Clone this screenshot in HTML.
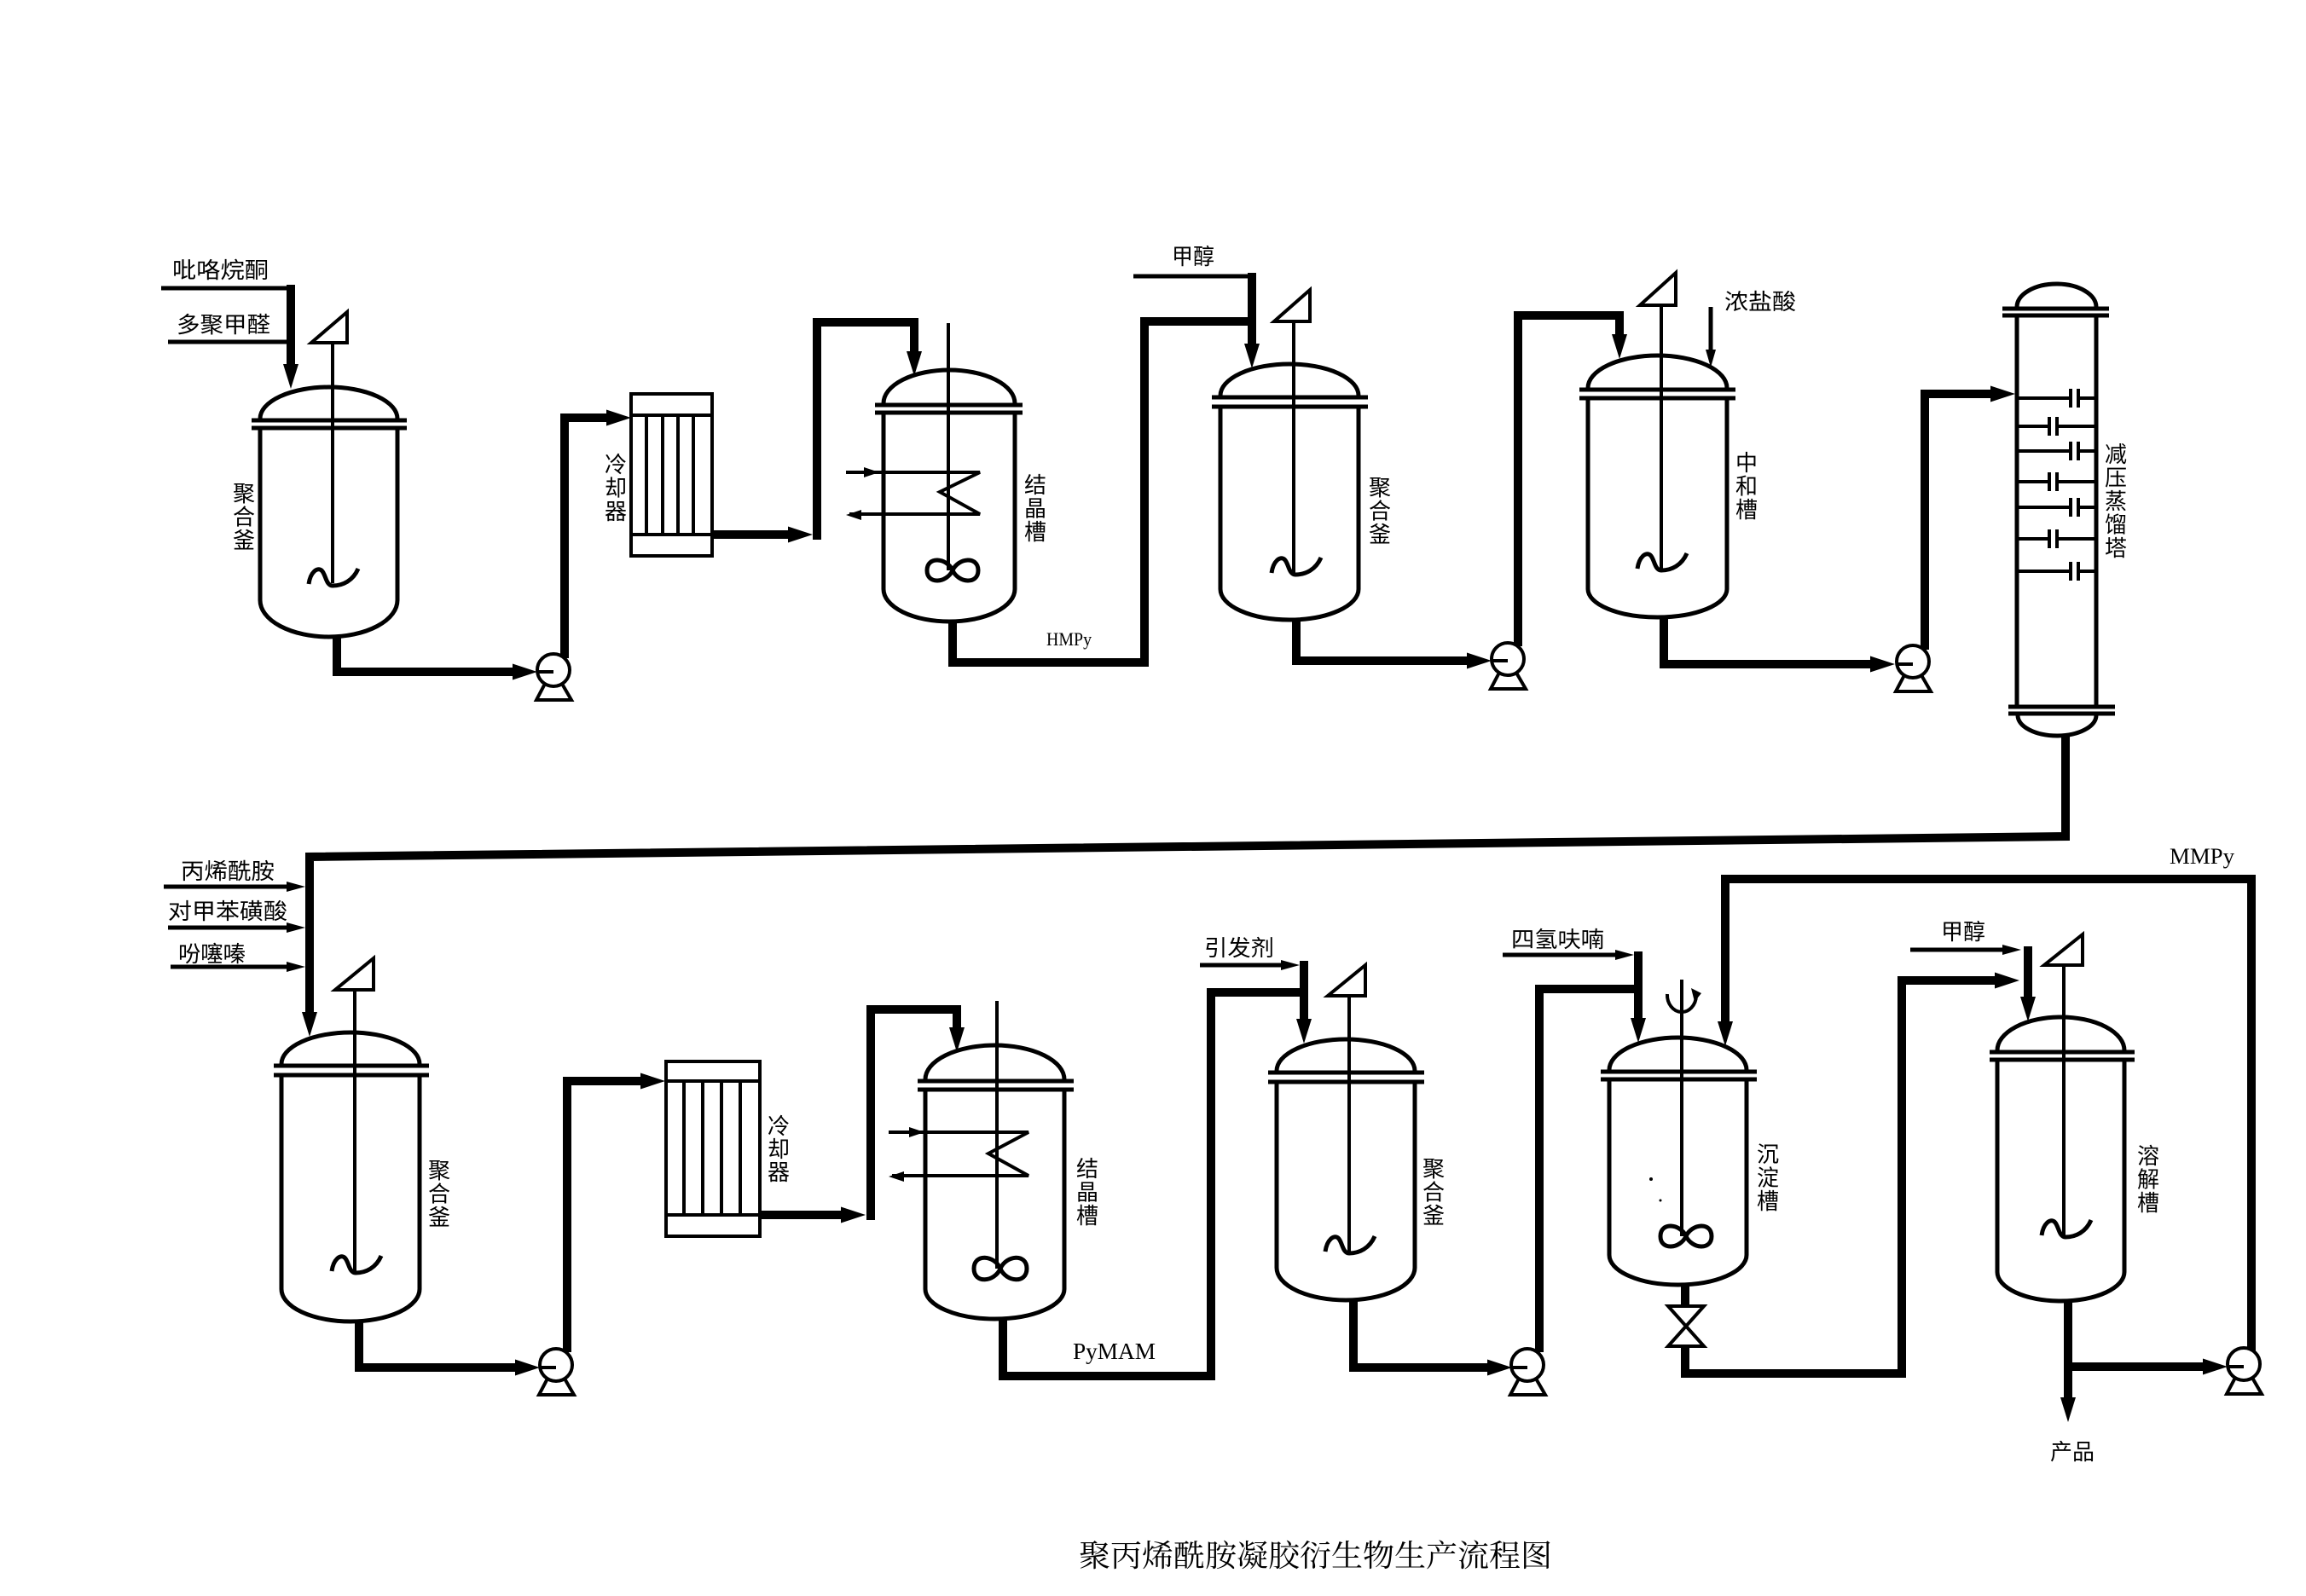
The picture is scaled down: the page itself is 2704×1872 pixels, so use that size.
<!DOCTYPE html>
<html><head><meta charset="utf-8"><style>
html,body{margin:0;padding:0;background:#fff;}
svg{display:block;}
.v{fill:none;stroke:#000;stroke-width:5;}
.p{fill:none;stroke:#000;stroke-width:10;stroke-linejoin:miter;}
.t{fill:none;stroke:#000;stroke-width:5;}
.s{fill:none;stroke:#000;stroke-width:4;}
.a{fill:#000;stroke:none;}
.w{fill:#fff;stroke:#000;stroke-width:4;}
.cj{font-family:"Liberation Sans","Noto Sans CJK SC",sans-serif;font-size:26px;fill:#000;}
.vt{font-family:"Liberation Sans","Noto Sans CJK SC",sans-serif;font-size:26px;fill:#000;text-anchor:middle;}
.en{font-family:"Liberation Serif","DejaVu Serif",serif;fill:#000;}
.ti{font-family:"Liberation Serif","Noto Serif CJK SC",serif;font-size:36px;fill:#000;}
</style></head><body>
<svg width="2704" height="1872" viewBox="0 0 2704 1872" xmlns="http://www.w3.org/2000/svg">
<rect width="2704" height="1872" fill="#fff"/>

<!-- ================= TOP ROW ================= -->
<text class="cj" x="202" y="326" textLength="113" lengthAdjust="spacingAndGlyphs">吡咯烷酮</text>
<text class="cj" x="207" y="390" textLength="110" lengthAdjust="spacingAndGlyphs">多聚甲醛</text>
<path class="t" d="M189,338H346"/>
<path class="t" d="M197,401H341"/>
<path class="p" d="M341,334V430"/>
<polygon class="a" points="341,456 332,427 350,427"/>

<!-- T1 reactor -->
<path class="v" d="M305,491 A80.5,37 0 0 1 466,491"/>
<path class="v" d="M295,493H477M295,502H477"/>
<path class="v" d="M305,502V704 A80.5,43 0 0 0 466,704 V502"/>
<polygon class="s" points="407,366 407,402 365,402"/>
<path class="s" d="M390,402V684"/>
<path class="v" transform="translate(362,667)" d="M0,18 C2,4 10,-2 15,2 C20,6 20,20 28,20 C40,20 52,14 58,0"/>
<text class="vt"><tspan x="286" y="588">聚</tspan><tspan x="286" y="615.5">合</tspan><tspan x="286" y="643">釜</tspan></text>

<path class="p" d="M395,747V788H603"/>
<polygon class="a" points="630,788 601,778.5 601,797.5"/>
<path class="p" d="M662,772V490H713"/>
<polygon class="a" points="740,490 711,480.5 711,499.5"/>
<polygon class="w" points="639,802 659,802 670,821 629,821"/>
<circle class="w" cx="649" cy="786" r="19"/>
<path class="s" d="M631,788H649"/>

<!-- C1 cooler -->
<rect class="w" x="740" y="462" width="95" height="190"/>
<path class="s" d="M740,487H835M740,627H835M758,487V627M777,487V627M795,487V627M813,487V627"/>
<text class="vt"><tspan x="722" y="554">冷</tspan><tspan x="722" y="581.5">却</tspan><tspan x="722" y="609">器</tspan></text>
<path class="p" d="M835,627H925"/>
<polygon class="a" points="953,627 924,617.5 924,636.5"/>
<path class="p" d="M958,633V378H1072V414"/>
<polygon class="a" points="1072,441 1063,412 1081,412"/>

<!-- K1 crystallizer -->
<path class="v" d="M1036,473 A77,39 0 0 1 1190,473"/>
<path class="v" d="M1026,475H1199M1026,484H1199"/>
<path class="v" d="M1036,484V691 A77,38 0 0 0 1190,691 V484"/>
<path class="s" d="M1112,379V669"/>
<path class="v" d="M1117,669 C1110,654 1087,652 1087,669 C1087,686 1110,684 1117,669 C1124,654 1147,652 1147,669 C1147,686 1124,684 1117,669Z"/>
<path class="s" d="M992,554H1149L1102,577L1149,603H996"/>
<polygon class="a" points="1031,554 1013,548 1013,560"/>
<polygon class="a" points="992,604 1010,598 1010,610"/>
<text class="vt"><tspan x="1214" y="578">结</tspan><tspan x="1214" y="605.5">晶</tspan><tspan x="1214" y="633">槽</tspan></text>

<path class="p" d="M1117,729V777H1342V377H1468"/>
<text class="en" x="1227" y="757" font-size="22" textLength="53" lengthAdjust="spacingAndGlyphs">HMPy</text>
<text class="cj" x="1374" y="310" font-size="25" textLength="50" lengthAdjust="spacingAndGlyphs">甲醇</text>
<path class="t" d="M1329,324H1473"/>
<path class="p" d="M1468,320V405"/>
<polygon class="a" points="1468,432 1459,403 1477,403"/>

<!-- R2 reactor -->
<path class="v" d="M1431,464 A81,37 0 0 1 1593,464"/>
<path class="v" d="M1421,466H1604M1421,477H1604"/>
<path class="v" d="M1431,477V691 A81,36 0 0 0 1593,691 V477"/>
<polygon class="s" points="1536,340 1536,377 1494,377"/>
<path class="s" d="M1517,377V672"/>
<path class="v" transform="translate(1491,654)" d="M0,18 C2,4 10,-2 15,2 C20,6 20,20 28,20 C40,20 52,14 58,0"/>
<text class="vt"><tspan x="1618" y="581">聚</tspan><tspan x="1618" y="608.5">合</tspan><tspan x="1618" y="636">釜</tspan></text>

<path class="p" d="M1520,727V775H1722"/>
<polygon class="a" points="1749,775 1720,765.5 1720,784.5"/>
<path class="p" d="M1780,758V370H1899V394"/>
<polygon class="a" points="1899,421 1890,392 1908,392"/>
<polygon class="w" points="1758,789 1778,789 1789,808 1748,808"/>
<circle class="w" cx="1768" cy="773" r="19"/>
<path class="s" d="M1750,775H1768"/>

<!-- N neutralizer -->
<path class="v" d="M1862,455 A81.5,38 0 0 1 2025,455"/>
<path class="v" d="M1852,457H2035M1852,467H2035"/>
<path class="v" d="M1862,467V691 A81.5,33 0 0 0 2025,691 V467"/>
<polygon class="s" points="1965,320 1965,358 1923,358"/>
<path class="s" d="M1948,358V667"/>
<path class="v" transform="translate(1920,649)" d="M0,18 C2,4 10,-2 15,2 C20,6 20,20 28,20 C40,20 52,14 58,0"/>
<text class="cj" x="2022" y="363" textLength="84" lengthAdjust="spacingAndGlyphs">浓盐酸</text>
<path class="t" d="M2006,360V412"/>
<polygon class="a" points="2006,431 2000,410 2012,410"/>
<text class="vt"><tspan x="2048" y="552">中</tspan><tspan x="2048" y="579.5">和</tspan><tspan x="2048" y="607">槽</tspan></text>

<path class="p" d="M1951,724V779H2194"/>
<polygon class="a" points="2222,779 2193,769.5 2193,788.5"/>
<path class="p" d="M2257,762V462H2335"/>
<polygon class="a" points="2363,462 2334,452.5 2334,471.5"/>
<polygon class="w" points="2233,792 2253,792 2264,811 2223,811"/>
<circle class="w" cx="2243" cy="776" r="19"/>
<path class="s" d="M2225,779H2243"/>

<!-- Column -->
<path class="v" d="M2365,360 A46.5,27 0 0 1 2458,360"/>
<path class="v" d="M2348,362H2473M2348,370H2473"/>
<path class="v" d="M2365,370V829M2458,370V829"/>
<path class="v" d="M2355,829H2480M2355,837H2480"/>
<path class="v" d="M2366,839 A46,24 0 0 0 2458,839"/>
<path class="s" d="M2367,467H2428M2428,456V478M2437,456V478M2437,467H2456"/>
<path class="s" d="M2367,500H2403M2403,489V511M2412,489V511M2412,500H2456"/>
<path class="s" d="M2367,529H2428M2428,518V540M2437,518V540M2437,529H2456"/>
<path class="s" d="M2367,565H2403M2403,554V576M2412,554V576M2412,565H2456"/>
<path class="s" d="M2367,595H2428M2428,584V606M2437,584V606M2437,595H2456"/>
<path class="s" d="M2367,632H2403M2403,621V643M2412,621V643M2412,632H2456"/>
<path class="s" d="M2367,670H2428M2428,659V681M2437,659V681M2437,670H2456"/>
<text class="vt"><tspan x="2481" y="542">减</tspan><tspan x="2481" y="569.5">压</tspan><tspan x="2481" y="597">蒸</tspan><tspan x="2481" y="624.5">馏</tspan><tspan x="2481" y="652">塔</tspan></text>

<path class="p" d="M2422,863V981L363,1005V1189"/>
<polygon class="a" points="363,1216 354,1187 372,1187"/>

<!-- ================= BOTTOM ROW ================= -->
<text class="cj" x="212" y="1031" textLength="110" lengthAdjust="spacingAndGlyphs">丙烯酰胺</text>
<text class="cj" x="197" y="1078" textLength="140" lengthAdjust="spacingAndGlyphs">对甲苯磺酸</text>
<text class="cj" x="209" y="1128" textLength="79" lengthAdjust="spacingAndGlyphs">吩噻嗪</text>
<path class="t" d="M192,1040H340M197,1088H340M200,1134H340"/>
<polygon class="a" points="358,1040 336,1034 336,1046"/>
<polygon class="a" points="358,1088 336,1082 336,1094"/>
<polygon class="a" points="358,1134 336,1128 336,1140"/>

<!-- R3 -->
<path class="v" d="M330,1248 A81,37 0 0 1 492,1248"/>
<path class="v" d="M321,1250H503M321,1261H503"/>
<path class="v" d="M330,1261V1512 A81,38 0 0 0 492,1512 V1261"/>
<polygon class="s" points="438,1124 438,1161 393,1161"/>
<path class="s" d="M416,1161V1492"/>
<path class="v" transform="translate(389,1473)" d="M0,18 C2,4 10,-2 15,2 C20,6 20,20 28,20 C40,20 52,14 58,0"/>
<text class="vt"><tspan x="515" y="1382">聚</tspan><tspan x="515" y="1409.5">合</tspan><tspan x="515" y="1437">釜</tspan></text>

<path class="p" d="M421,1550V1604H605"/>
<polygon class="a" points="633,1604 604,1594.5 604,1613.5"/>
<path class="p" d="M665,1586V1268H752"/>
<polygon class="a" points="780,1268 751,1258.5 751,1277.5"/>
<polygon class="w" points="642,1617 662,1617 673,1636 632,1636"/>
<circle class="w" cx="652" cy="1601" r="19"/>
<path class="s" d="M634,1604H652"/>

<!-- C2 -->
<rect class="w" x="781" y="1245" width="110" height="205"/>
<path class="s" d="M781,1268H891M781,1425H891M802,1268V1425M824,1268V1425M846,1268V1425M868,1268V1425"/>
<text class="vt"><tspan x="913" y="1330">冷</tspan><tspan x="913" y="1357">却</tspan><tspan x="913" y="1384">器</tspan></text>
<path class="p" d="M891,1425H987"/>
<polygon class="a" points="1015,1425 986,1415.5 986,1434.5"/>
<path class="p" d="M1021,1431V1184H1122V1207"/>
<polygon class="a" points="1122,1234 1113,1205 1131,1205"/>

<!-- K2 -->
<path class="v" d="M1085,1266 A81.5,40 0 0 1 1248,1266"/>
<path class="v" d="M1076,1268H1259M1076,1278H1259"/>
<path class="v" d="M1085,1278V1512 A81.5,35 0 0 0 1248,1512 V1278"/>
<path class="s" d="M1169,1174V1488"/>
<path class="v" d="M1173,1488 C1166,1472 1142,1470 1142,1488 C1142,1506 1166,1504 1173,1488 C1180,1472 1204,1470 1204,1488 C1204,1506 1180,1504 1173,1488Z"/>
<path class="s" d="M1042,1328H1206L1159,1353L1206,1379H1046"/>
<polygon class="a" points="1084,1328 1066,1322 1066,1334"/>
<polygon class="a" points="1042,1380 1060,1374 1060,1386"/>
<text class="vt"><tspan x="1275" y="1380">结</tspan><tspan x="1275" y="1407.5">晶</tspan><tspan x="1275" y="1435">槽</tspan></text>

<path class="p" d="M1176,1547V1614H1420V1164H1529"/>
<text class="en" x="1258" y="1594" font-size="27" textLength="97" lengthAdjust="spacingAndGlyphs">PyMAM</text>
<text class="cj" x="1412" y="1121" textLength="82" lengthAdjust="spacingAndGlyphs">引发剂</text>
<path class="t" d="M1407,1132H1504"/>
<polygon class="a" points="1524,1132 1502,1126 1502,1138"/>
<path class="p" d="M1529,1127V1197"/>
<polygon class="a" points="1529,1224 1520,1195 1538,1195"/>

<!-- R4 -->
<path class="v" d="M1497,1256 A81,37 0 0 1 1659,1256"/>
<path class="v" d="M1487,1258H1670M1487,1269H1670"/>
<path class="v" d="M1497,1269V1487 A81,38 0 0 0 1659,1487 V1269"/>
<polygon class="s" points="1601,1132 1601,1168 1557,1168"/>
<path class="s" d="M1582,1168V1468"/>
<path class="v" transform="translate(1554,1450)" d="M0,18 C2,4 10,-2 15,2 C20,6 20,20 28,20 C40,20 52,14 58,0"/>
<text class="vt"><tspan x="1681" y="1380">聚</tspan><tspan x="1681" y="1407.5">合</tspan><tspan x="1681" y="1435">釜</tspan></text>

<path class="p" d="M1587,1525V1604H1745"/>
<polygon class="a" points="1773,1604 1744,1594.5 1744,1613.5"/>
<path class="p" d="M1805,1586V1160H1921"/>
<path class="p" d="M1921,1116V1196"/>
<polygon class="a" points="1921,1223 1912,1194 1930,1194"/>
<polygon class="w" points="1781,1617 1801,1617 1812,1636 1771,1636"/>
<circle class="w" cx="1791" cy="1601" r="19"/>
<path class="s" d="M1773,1604H1791"/>
<text class="cj" x="1772" y="1111" textLength="109" lengthAdjust="spacingAndGlyphs">四氢呋喃</text>
<path class="t" d="M1762,1120H1896"/>
<polygon class="a" points="1916,1120 1894,1114 1894,1126"/>

<!-- S precipitation tank -->
<path class="v" d="M1887,1255 A80.5,38 0 0 1 2048,1255"/>
<path class="v" d="M1877,1257H2060M1877,1266H2060"/>
<path class="v" d="M1887,1266V1472 A80.5,35 0 0 0 2048,1472 V1266"/>
<path class="s" d="M1972,1149V1450"/>
<path class="v" d="M1977,1450 C1970,1435 1947,1433 1947,1450 C1947,1467 1970,1465 1977,1450 C1984,1435 2007,1433 2007,1450 C2007,1467 1984,1465 1977,1450Z"/>
<path class="s" d="M1955,1166 A17,20 0 0 0 1989,1168"/>
<polygon class="a" points="1983,1159 1995,1165 1987,1175"/>
<circle class="a" cx="1936" cy="1383" r="2"/>
<circle class="a" cx="1947" cy="1408" r="1.5"/>
<text class="vt"><tspan x="2073" y="1363">沉</tspan><tspan x="2073" y="1390.5">淀</tspan><tspan x="2073" y="1418">槽</tspan></text>

<!-- MMPy recycle -->
<path class="p" d="M2640,1585V1031H2023V1200"/>
<polygon class="a" points="2023,1227 2014,1198 2032,1198"/>
<text class="en" x="2544" y="1013" font-size="26" textLength="76" lengthAdjust="spacingAndGlyphs">MMPy</text>

<!-- valve + S outlet -->
<path class="p" d="M1976,1507V1532"/>
<path class="p" d="M1976,1579V1611H2230V1150H2340"/>
<polygon class="a" points="2368,1150 2339,1140.5 2339,1159.5"/>
<path class="w" d="M1956,1532H1998L1956,1579H1998Z"/>

<!-- methanol 2 -->
<text class="cj" x="2276" y="1102" font-size="25" textLength="52" lengthAdjust="spacingAndGlyphs">甲醇</text>
<path class="t" d="M2240,1114H2352"/>
<polygon class="a" points="2370,1114 2348,1108 2348,1120"/>
<path class="p" d="M2378,1110V1171"/>
<polygon class="a" points="2378,1198 2369,1169 2387,1169"/>

<!-- D dissolution tank -->
<path class="v" d="M2342,1232 A74.5,39 0 0 1 2491,1232"/>
<path class="v" d="M2333,1234H2503M2333,1243H2503"/>
<path class="v" d="M2342,1243V1492 A74.5,34 0 0 0 2491,1492 V1243"/>
<polygon class="s" points="2442,1096 2442,1132 2397,1132"/>
<path class="s" d="M2420,1132V1449"/>
<path class="v" transform="translate(2394,1431)" d="M0,18 C2,4 10,-2 15,2 C20,6 20,20 28,20 C40,20 52,14 58,0"/>
<text class="vt"><tspan x="2519" y="1365">溶</tspan><tspan x="2519" y="1392.5">解</tspan><tspan x="2519" y="1420">槽</tspan></text>

<path class="p" d="M2425,1526V1640"/>
<polygon class="a" points="2425,1668 2416,1639 2434,1639"/>
<path class="p" d="M2425,1603H2584"/>
<polygon class="a" points="2612,1603 2583,1593.5 2583,1612.5"/>
<polygon class="w" points="2621,1616 2641,1616 2652,1635 2611,1635"/>
<circle class="w" cx="2631" cy="1600" r="19"/>
<path class="s" d="M2613,1603H2631"/>
<text class="cj" x="2404" y="1712" textLength="52" lengthAdjust="spacingAndGlyphs">产品</text>

<!-- Title -->
<text class="ti" x="1265" y="1837" textLength="555" lengthAdjust="spacingAndGlyphs">聚丙烯酰胺凝胶衍生物生产流程图</text>
</svg>
</body></html>
